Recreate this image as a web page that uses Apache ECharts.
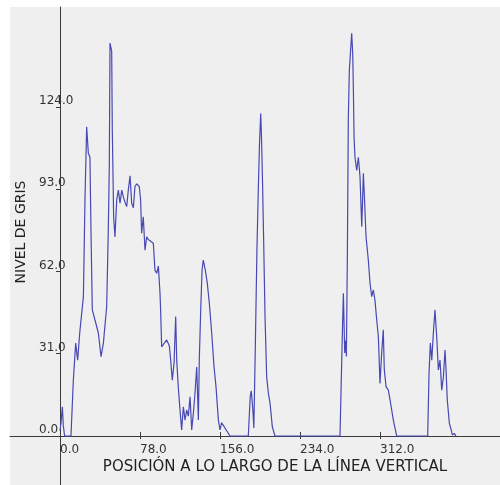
<!DOCTYPE html>
<html>
<head>
<meta charset="utf-8">
<script src="https://cdn.jsdelivr.net/npm/echarts@6/dist/echarts.min.js"></script>
<style>
html,body{margin:0;padding:0;background:#ffffff;}
#chart{width:500px;height:485px;}
</style>
</head>
<body>
<div id="chart"></div>
<script>
// Position along the vertical line (x) and grey level (y)
const positions = [
  0, 1, 2.3, 3.2, 4.5, 10.7, 13, 15.3, 17.2, 19.5, 21.1, 22.8, 24.4, 26, 27.6, 29.2, 30.2, 31.5, 34.1, 37.4,
  40, 42.3, 45.5, 47.1, 48.1, 48.75, 50.4, 51, 52.3, 53.6, 55.3, 56.9, 58.5, 60.2, 61.8, 63.4, 65, 66.6, 68.3, 69.9,
  71.5, 73.1, 74.8, 77.3, 78.6, 79.6, 81.2, 82.9, 84.5, 86.1, 87.8, 91, 92.6, 94.3, 95.9, 97.5, 98.2, 99.1, 100.8, 104,
  106.6, 107.9, 109.5, 111.2, 112.8, 113.8, 115.3, 117, 118.6, 120.3, 121.9, 123.5, 125.1, 126.8, 128.4, 130, 131.6, 133.3, 134.9, 135.8,
  137.2, 138.5, 139.7, 141.7, 143.6, 145.6, 147.9, 150.2, 152.1, 154.4, 156, 157.6, 159.3, 162.5, 165.8,
  183.6, 185.5, 186.5, 188, 189, 190.5, 192, 193.5, 194.5, 195.7, 196.5, 197.5, 198.5, 199.9, 201.5, 203.2, 204.8, 207, 209.6,
  273, 275.6, 276.3, 277.6, 278.6, 279.2, 280.2, 281.1, 282.1, 284.4, 285.4, 286, 286.7, 287.6, 289.3, 290.9, 292.5, 294.2, 295.8, 296.7,
  298.4, 300.6, 302.3, 303.9, 305.5, 307.1, 308.8, 310.4, 312, 313.6, 315.2, 316.2, 317.9, 320.1, 321.8, 325, 328.3,
  358.5, 359.8, 361.1, 362.5, 364, 365.6, 367.3, 368.9, 370.5, 372.2, 373.8, 375.4, 376.4, 377.6, 379.6, 381.3, 382.5, 384.5, 386
];
const greyLevels = [
  2, 5, 11, 4, 0, 0, 21, 35, 28.6, 40, 46, 52.5, 90, 116.5, 106.6, 105, 77.6, 47.5, 43.7, 38.8,
  29.9, 35, 48.7, 77.6, 102.8, 148, 145, 115, 82.6, 75, 89, 92.6, 87.7, 92.6, 90, 88, 86.4, 92.6, 98, 87.7,
  86, 94, 95, 94, 89, 76.4, 82.6, 70, 75, 74, 73.8, 72.6, 62.5, 61.3, 64, 53.8, 46.3, 33.6, 33.4, 36.2,
  34, 28.6, 21, 27.5, 45, 28.6, 18.6, 9.8, 2.3, 11, 6, 9.8, 7.5, 14.8, 2.3, 8.5, 16, 26, 6, 28.6,
  47.5, 62.5, 66.3, 62.5, 57.6, 50, 38.8, 26, 18.6, 6, 2.3, 5, 4, 2, 0,
  0, 15, 17, 10, 3, 35, 70, 95, 110, 121.5, 112, 95, 75, 45, 22.3, 16, 12.4, 3.5, 0,
  0, 43.7, 53.8, 31.3, 36, 30, 68.8, 119, 137.8, 151.7, 144, 131.6, 112.7, 105, 100, 105, 97.7, 78.8, 99, 91,
  75, 66.3, 57.5, 52.5, 55, 51.2, 43.7, 37.4, 19.8, 31.1, 40, 24.9, 18.6, 17.3, 13.6, 6, 0,
  0, 23.7, 35, 28.6, 38.7, 47.5, 37.4, 24.9, 28.6, 17.3, 22.3, 32.4, 24.9, 13.6, 4.8, 2.5, 0.4, 1, 0
];
const xTicks = [0, 78, 156, 234, 312];
const yTicks = [0, 31, 62, 93, 124];
const xTitle = 'POSICIÓN A LO LARGO DE LA LÍNEA VERTICAL';
const yTitle = 'NIVEL DE GRIS';

const profile = positions.map((p, i) => [p, greyLevels[i]]);

const FONT = 'DejaVu Sans';
const AXIS = '#3a3a3a';
const chart = echarts.init(document.getElementById('chart'), null, {renderer: 'canvas'});
chart.setOption({
  animation: false,
  backgroundColor: '#ffffff',
  grid: {
    left: 10, top: 7, right: 0, bottom: 0,
    containLabel: false, outerBoundsMode: 'none',
    show: true, backgroundColor: '#efefef', borderWidth: 0
  },
  xAxis: [{
    type: 'value',
    min: -48.75, max: 429,
    position: 'bottom', offset: -49,
    splitLine: {show: false},
    axisLine: {show: true, onZero: false, lineStyle: {color: AXIS, width: 1}},
    axisTick: {show: true, inside: true, length: 4, customValues: xTicks, lineStyle: {color: AXIS}},
    axisLabel: {
      show: true, customValues: xTicks, align: 'left', margin: 8,
      formatter: v => v.toFixed(1),
      fontFamily: FONT, fontSize: 12, color: '#333333'
    }
  }, {
    type: 'value',
    min: -48.75, max: 429,
    position: 'bottom', offset: -49,
    splitLine: {show: false},
    axisLine: {show: false, onZero: false},
    axisTick: {show: true, inside: false, length: 3, customValues: xTicks, lineStyle: {color: AXIS}},
    axisLabel: {show: false}
  }],
  yAxis: {
    type: 'value',
    min: -18.45, max: 161.6,
    position: 'left', offset: -50,
    splitLine: {show: false},
    axisLine: {show: true, onZero: false, lineStyle: {color: AXIS, width: 1}},
    axisTick: {show: true, inside: false, length: 4, customValues: yTicks, lineStyle: {color: AXIS}},
    axisLabel: {
      show: true, customValues: yTicks, align: 'left', verticalAlign: 'bottom', margin: 21,
      formatter: v => v.toFixed(1),
      fontFamily: FONT, fontSize: 12, color: '#333333'
    }
  },
  series: [{
    type: 'line',
    data: profile,
    xAxisIndex: 0,
    showSymbol: false,
    symbol: 'none',
    lineStyle: {color: '#4848b4', width: 1.2},
    z: 3
  }],
  graphic: [{
    type: 'text',
    x: 275, y: 467,
    style: {
      text: xTitle, fontFamily: FONT, fontSize: 15, fill: '#222222',
      align: 'center', verticalAlign: 'middle'
    }
  }, {
    type: 'text',
    x: 21, y: 232,
    rotation: Math.PI / 2,
    style: {
      text: yTitle, fontFamily: FONT, fontSize: 14, fill: '#222222',
      align: 'center', verticalAlign: 'middle'
    }
  }]
});
</script>
</body>
</html>
